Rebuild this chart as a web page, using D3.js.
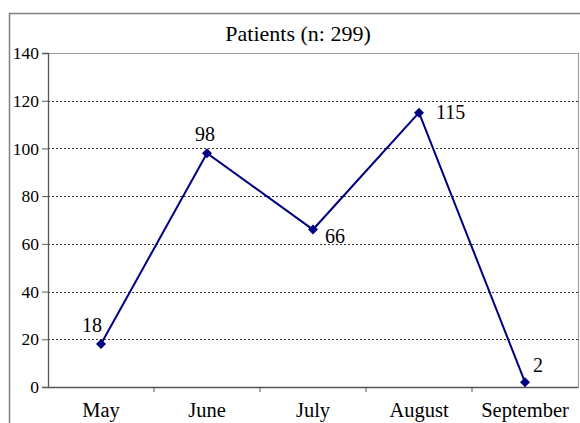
<!DOCTYPE html>
<html><head><meta charset="utf-8">
<script src="https://cdn.jsdelivr.net/npm/d3@7"></script>
<style>body{margin:0;background:#fff}svg{display:block}text{font-family:"Liberation Serif","Times New Roman",serif;fill:#000}</style>
</head><body><svg id="c" width="580" height="423"></svg>
<script>
const categories = ["May","June","July","August","September"];
const patients = [18, 98, 66, 115, 2];
const yTicks = [0,20,40,60,80,100,120,140];
const title = "Patients (n: 299)";
// label placement per point: [dx, dy, anchor]
const labelPos = [[-9,-12,"middle"],[-2,-12,"middle"],[12,13,"start"],[17,6,"start"],[8,-10,"start"]];

const svg = d3.select("#c");
const L = 48, R = 578, T = 53, B = 387;
const x = d3.scaleBand().domain(categories).range([L, R]);
const y = d3.scaleLinear().domain([0,140]).range([B, T]);
const serif = "Liberation Serif, Times New Roman, serif";

// outer frame
svg.append("path").attr("d","M9.5,423 V13.5 H580").attr("fill","none").attr("stroke","#7f7f7f").attr("stroke-width",1.5);

svg.append("text").attr("x",298).attr("y",41).attr("text-anchor","middle").attr("font-size",22).attr("font-family",serif).text(title);

// plot border top/right
svg.append("path").attr("d",`M${L},${T+0.5} H${R+0.5} V${B}`).attr("fill","none").attr("stroke","#a0a0a0").attr("stroke-width",1.2);

// gridlines
svg.append("g").selectAll("line").data(yTicks.filter(v=>v>0 && v<140)).join("line")
  .attr("x1",L).attr("x2",R).attr("y1",d=>Math.round(y(d))+0.5).attr("y2",d=>Math.round(y(d))+0.5)
  .attr("stroke","#333").attr("stroke-dasharray","2,2").attr("stroke-width",1);

// y axis
const ya = svg.append("g").attr("transform",`translate(${L},0)`)
  .call(d3.axisLeft(y).tickValues(yTicks).tickSize(6).tickPadding(3));
ya.attr("font-family",serif);
ya.select(".domain").attr("stroke","#555").attr("stroke-width",1.3);
ya.selectAll(".tick line").attr("stroke","#555");
ya.selectAll(".tick text").attr("font-size",17.5).attr("font-family",serif).attr("fill","#000");

// x axis
const xa = svg.append("g").attr("transform",`translate(0,${B})`)
  .call(d3.axisBottom(x).tickSize(0).tickPadding(15));
xa.attr("font-family",serif);
xa.select(".domain").attr("stroke","#555").attr("stroke-width",1.3);
xa.selectAll(".tick text").attr("font-size",20.5).attr("font-family",serif).attr("fill","#000");
// boundary ticks between categories
xa.append("g").selectAll("line").data(categories.slice(1)).join("line")
  .attr("x1",d=>x(d)).attr("x2",d=>x(d)).attr("y1",0).attr("y2",5).attr("stroke","#555");

const cx = d=>x(d)+x.bandwidth()/2;
const data = categories.map((c,i)=>({c, v:patients[i], i}));
svg.append("path").datum(data).attr("fill","none").attr("stroke","#000080").attr("stroke-width",2)
  .attr("d", d3.line().x(d=>cx(d.c)).y(d=>y(d.v)));
svg.append("g").selectAll("path").data(data).join("path")
  .attr("d", d3.symbol(d3.symbolSquare, 50)())
  .attr("transform", d=>`translate(${cx(d.c)},${y(d.v)}) rotate(45)`).attr("fill","#000080");
svg.append("g").selectAll("text").data(data).join("text")
  .attr("x",d=>cx(d.c)+labelPos[d.i][0]).attr("y",d=>y(d.v)+labelPos[d.i][1])
  .attr("text-anchor",d=>labelPos[d.i][2]).attr("font-size",20).attr("font-family",serif).text(d=>d.v);
</script></body></html>
